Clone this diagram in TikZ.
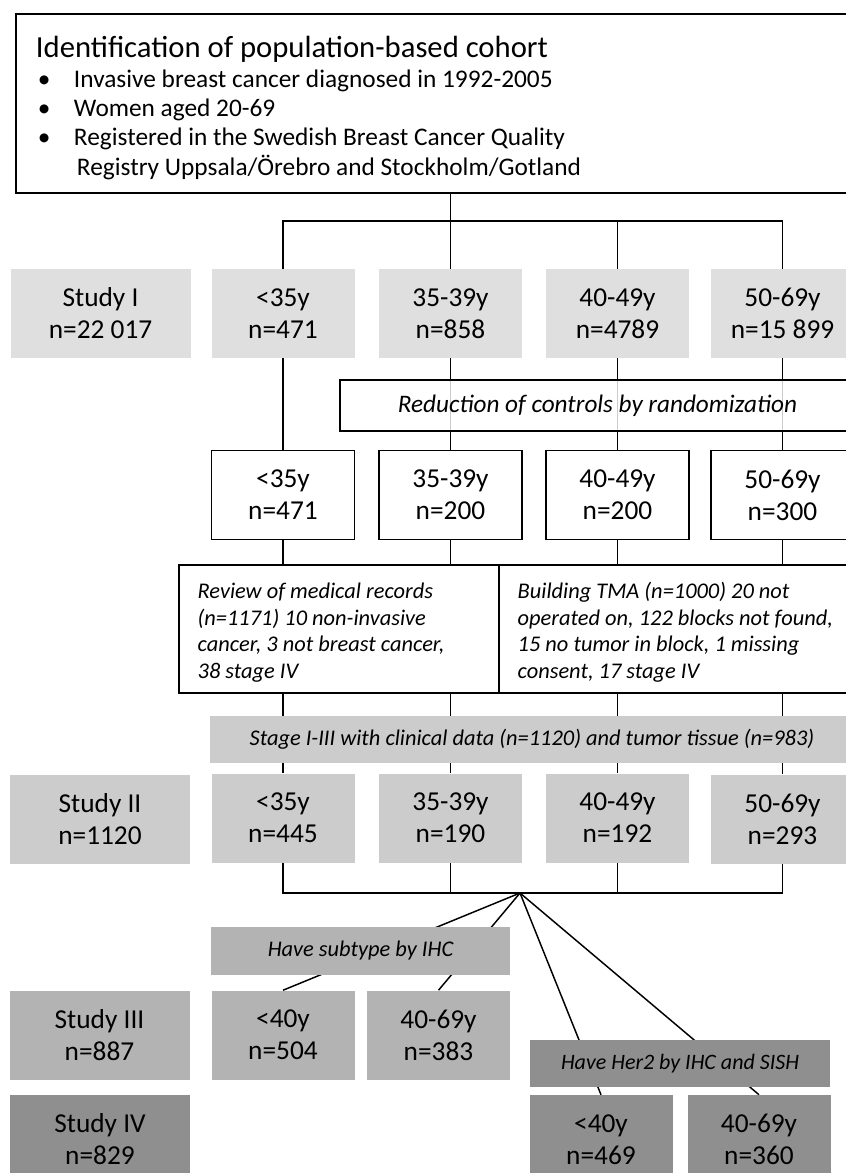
\documentclass[tikz,border=0pt]{standalone}
\usepackage{fontspec}
\setmainfont{Carlito}
\usetikzlibrary{backgrounds}
\setlength{\parindent}{0pt}
\definecolor{grayA}{HTML}{DFDFDF}
\definecolor{grayB}{HTML}{CCCCCC}
\definecolor{grayC}{HTML}{B3B3B3}
\definecolor{grayD}{HTML}{8F8F8F}
\newcommand{\cohortbullet}{\hspace*{1.5pt}\makebox[27pt][l]{\textbullet}}
\tikzset{
  agebox/.style={minimum width=107.25pt, minimum height=66.75pt, inner sep=0pt, align=center, font=\fontsize{20.5}{24}\selectfont},
  studybox/.style={agebox, minimum width=135pt},
  notebox/.style={inner sep=0pt, align=center, font=\fontsize{16.8}{20}\selectfont\itshape},
  reviewbox/.style={draw, line width=1.5pt, minimum height=96pt, inner xsep=14pt, inner ysep=0pt, align=flush left, font=\fontsize{16.8}{19.9}\selectfont\itshape},
  link/.style={line width=1.1pt},
}

\begin{document}
\begin{tikzpicture}[x=0.75pt,y=-0.75pt]
	\useasboundingbox (0,0) rectangle (845,1173);
	% cohort
	\node[draw, line width=1.5pt, minimum height=134.25pt, text width=621.75pt, inner xsep=15pt, align=flush left, font=\fontsize{19}{22}\selectfont] (cohort) at (450.5,103.5){{\fontsize{23}{26}\selectfont\rule{0pt}{23pt}Identification of population-based cohort\par}
	\cohortbullet Invasive breast cancer diagnosed in 1992-2005\par
	\cohortbullet Women aged 20-69\par
	\cohortbullet Registered in the Swedish Breast Cancer Quality\par
	\hspace*{30.75pt}Registry Uppsala/Örebro and Stockholm/Gotland};
	\coordinate (split) at (450.5,221);
	% study I
	\node[studybox, fill=grayA] (s1) at (100.5,313.5){Study I\\n=22 017};
	\node[agebox, fill=grayA] (a1) at (283,313.5){<35y\\n=471};
	\node[agebox, fill=grayA] (b1) at (450.5,313.5){35-39y\\n=858};
	\node[agebox, fill=grayA] (c1) at (617.5,313.5){40-49y\\n=4789};
	\node[agebox, fill=grayA] (d1) at (782.5,313.5){50-69y\\n=15 899};
	\node[notebox, draw, line width=1.5pt, fill=white, fill opacity=0.8, text opacity=1, minimum width=386.25pt, minimum height=38.25pt, font=\fontsize{18.9}{20}\selectfont\itshape] (reduce) at (597.5,405.5){Reduction of controls by randomization};
	% randomized
	\node[agebox, draw, line width=1.1pt, fill=white] (a2) at (283,495){<35y\\n=471};
	\node[agebox, draw, line width=1.1pt, fill=white] (b2) at (450.5,495){35-39y\\n=200};
	\node[agebox, draw, line width=1.1pt, fill=white] (c2) at (617.5,495){40-49y\\n=200};
	\node[agebox, draw, line width=1.1pt, fill=white] (d2) at (782.5,495){50-69y\\n=300};
	\node[reviewbox, text width=212pt] (revA) at (339,629){\rule{0pt}{17pt}Review of medical records\\(n=1171) 10 non-invasive\\cancer, 3 not breast cancer,\\38 stage IV};
	\node[reviewbox, text width=239pt] (revB) at (677,629){\rule{0pt}{17pt}Building TMA (n=1000) 20 not\\operated on, 122 blocks not found,\\15 no tumor in block, 1 missing\\consent, 17 stage IV};
	\node[notebox, fill=grayB, minimum width=483pt, minimum height=35.25pt] (stage) at (532,739.5){Stage I-III with clinical data (n=1120) and tumor tissue (n=983)};
	% study II
	\node[studybox, fill=grayB] (s2) at (100,819){Study II\\n=1120};
	\node[agebox, fill=grayB] (a3) at (283,818){<35y\\n=445};
	\node[agebox, fill=grayB] (b3) at (450.5,818){35-39y\\n=190};
	\node[agebox, fill=grayB] (c3) at (617.5,818){40-49y\\n=192};
	\node[agebox, fill=grayB] (d3) at (782.5,819){50-69y\\n=293};
	\coordinate (fan) at (520,893);
	% study III
	\node[notebox, fill=grayC, minimum width=224.25pt, minimum height=36pt] (subtype) at (360.5,951){Have subtype by IHC};
	\node[studybox, fill=grayC] (s3) at (99.5,1035){Study III\\n=887};
	\node[agebox, fill=grayC] (a4) at (283,1035){<40y\\n=504};
	\node[agebox, fill=grayC] (b4) at (438.5,1035){40-69y\\n=383};
	% study IV
	\node[notebox, fill=grayD, minimum width=225pt, minimum height=35.25pt, font=\fontsize{16.5}{19}\selectfont\itshape] (her2) at (680,1063.5){Have Her2 by IHC and SISH};
	\node[studybox, fill=grayD] (s4) at (100,1139){Study IV\\n=829};
	\node[agebox, fill=grayD] (a5) at (601,1139.5){<40y\\n=469};
	\node[agebox, fill=grayD] (b5) at (759,1139.5){40-69y\\n=360};
	\begin{scope}[on background layer]
	\draw[link] (cohort.south) -- (b1.north);
	\draw[link] (a1.north) |- (split) -| (d1.north);
	\draw[link] (c1.north) -- (c1.north |- split);
	\draw[link] (a1.south) -- (a2.north);
	\draw[link] (b1.south) -- (b2.north);
	\draw[link] (c1.south) -- (c2.north);
	\draw[link] (d1.south) -- (d2.north);
	\draw[link] (a2.south) -- (a2.south |- revA.north);
	\draw[link] (b2.south) -- (b2.south |- revA.north);
	\draw[link] (c2.south) -- (c2.south |- revB.north);
	\draw[link] (d2.south) -- (d2.south |- revB.north);
	\draw[link] (a3.north |- revA.south) -- (a3.north);
	\draw[link] (b3.north |- revA.south) -- (b3.north);
	\draw[link] (c3.north |- revB.south) -- (c3.north);
	\draw[link] (d3.north |- revB.south) -- (d3.north);
	\draw[link] (a3.south) |- (fan) -| (d3.south);
	\draw[link] (b3.south) -- (b3.south |- fan);
	\draw[link] (c3.south) -- (c3.south |- fan);
	\draw[link] (fan) -- (a4.north);
	\draw[link] (fan) -- (b4.north);
	\draw[link] (fan) -- (a5.north);
	\draw[link] (fan) -- (b5.north);
	\end{scope}
\end{tikzpicture}
\end{document}
